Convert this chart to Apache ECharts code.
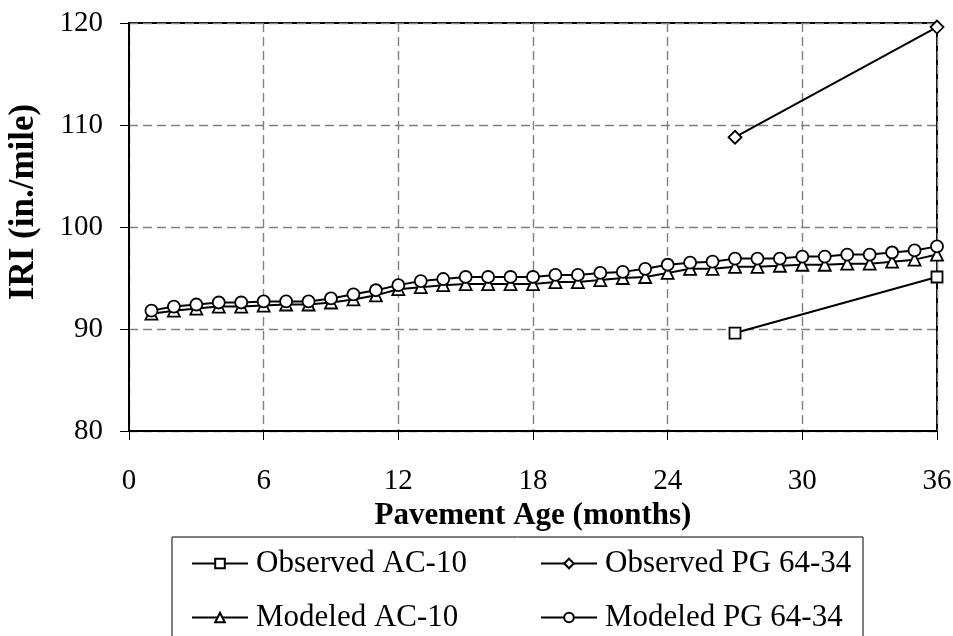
<!DOCTYPE html>
<html lang="en">
<head>
  <meta charset="UTF-8">
  <title>IRI vs Pavement Age</title>
  <script src="https://cdn.jsdelivr.net/npm/echarts@6/dist/echarts.min.js"></script>
  <style>
    html, body { margin: 0; padding: 0; background: #fff; }
  </style>
</head>
<body>
  <div id="main" style="width: 953px;height:636px;"></div>

  <script>
    // months of pavement age for modeled curves
    const months = [1, 2, 3, 4, 5, 6, 7, 8, 9, 10, 11, 12, 13, 14, 15, 16, 17, 18,
      19, 20, 21, 22, 23, 24, 25, 26, 27, 28, 29, 30, 31, 32, 33, 34, 35, 36];
    const modeledAC = [91.5, 91.8, 92.0, 92.2, 92.2, 92.3, 92.4, 92.4, 92.6, 92.9, 93.3, 93.9,
      94.1, 94.3, 94.4, 94.4, 94.4, 94.4, 94.6, 94.6, 94.8, 95.0, 95.1, 95.5,
      95.9, 95.9, 96.1, 96.1, 96.2, 96.3, 96.3, 96.4, 96.4, 96.6, 96.8, 97.3];
    const modeledPG = [91.8, 92.2, 92.4, 92.6, 92.6, 92.7, 92.7, 92.7, 93.0, 93.4, 93.8, 94.3,
      94.7, 94.9, 95.1, 95.1, 95.1, 95.1, 95.3, 95.3, 95.5, 95.6, 95.9, 96.3,
      96.5, 96.6, 96.9, 96.9, 96.9, 97.1, 97.1, 97.3, 97.3, 97.5, 97.7, 98.1];
    const observedMonths = [27, 36];
    const observedAC = [89.6, 95.1];
    const observedPG = [108.8, 119.6];

    const font = 'Liberation Serif';
    const pair = (xs, ys) => xs.map((x, i) => [x, ys[i]]);

    const myChart = echarts.init(document.getElementById('main'));

    const lineSeries = (name, symbol, size, data) => ({
      name: name,
      type: 'line',
      symbol: symbol,
      symbolSize: size,
      showAllSymbol: true,
      lineStyle: { color: '#000', width: 2 },
      itemStyle: { color: '#fff', borderColor: '#000', borderWidth: 1.8 },
      emphasis: { disabled: true },
      data: data
    });

    const legendAt = (name, left, top) => ({
      data: [name],
      left: left,
      top: top,
      itemWidth: 56,
      itemHeight: 12,
      textStyle: { fontFamily: font, fontSize: 31, color: '#000', padding: [0, 0, 0, 3] }
    });

    const options = {
      animation: false,
      backgroundColor: '#fff',
      grid: {
        left: 129,
        right: 16,
        top: 23,
        bottom: 205,
        outerBoundsMode: 'none',
        show: true,
        borderColor: '#000',
        borderWidth: 2
      },
      legend: [
        legendAt('Observed AC-10', 186, 543),
        legendAt('Observed PG 64-34', 535, 543),
        legendAt('Modeled AC-10', 186, 597),
        legendAt('Modeled PG 64-34', 535, 597)
      ],
      graphic: [{
        type: 'rect',
        shape: { x: 172, y: 537, width: 691, height: 110 },
        style: { fill: 'none', stroke: '#000', lineWidth: 1 }
      }, {
        // y axis title, Excel centres it a bit above the plot middle
        type: 'text',
        x: 24,
        y: 202,
        rotation: Math.PI / 2,
        style: {
          text: 'IRI (in./mile)',
          fontFamily: font,
          fontSize: 35,
          fontWeight: 'bold',
          fill: '#000',
          align: 'center',
          verticalAlign: 'middle'
        }
      }],
      xAxis: {
        type: 'value',
        min: 0,
        max: 36,
        interval: 6,
        name: 'Pavement Age (months)',
        nameLocation: 'middle',
        nameGap: 67,
        nameTextStyle: { fontFamily: font, fontSize: 31, fontWeight: 'bold', color: '#000' },
        axisLine: { lineStyle: { color: '#000', width: 2 } },
        axisTick: { show: true, length: 9, lineStyle: { color: '#000', width: 1 } },
        axisLabel: { fontFamily: font, fontSize: 29, color: '#000', margin: 36 },
        splitLine: { lineStyle: { color: '#808080', type: [9, 5], width: 1.4 } }
      },
      yAxis: {
        type: 'value',
        min: 80,
        max: 120,
        interval: 10,
        axisLine: { show: true, lineStyle: { color: '#000', width: 2 } },
        axisTick: { show: true, length: 9, lineStyle: { color: '#000', width: 1 } },
        axisLabel: { fontFamily: font, fontSize: 29, color: '#000', margin: 26 },
        splitLine: { lineStyle: { color: '#808080', type: [9, 5], width: 1.4 } }
      },
      series: [
        lineSeries('Observed AC-10', 'rect', 11, pair(observedMonths, observedAC)),
        lineSeries('Observed PG 64-34', 'diamond', 13, pair(observedMonths, observedPG)),
        lineSeries('Modeled AC-10', 'triangle', 12, pair(months, modeledAC)),
        lineSeries('Modeled PG 64-34', 'circle', 12, pair(months, modeledPG))
      ]
    };

    myChart.setOption(options);
  </script>
</body>
</html>
